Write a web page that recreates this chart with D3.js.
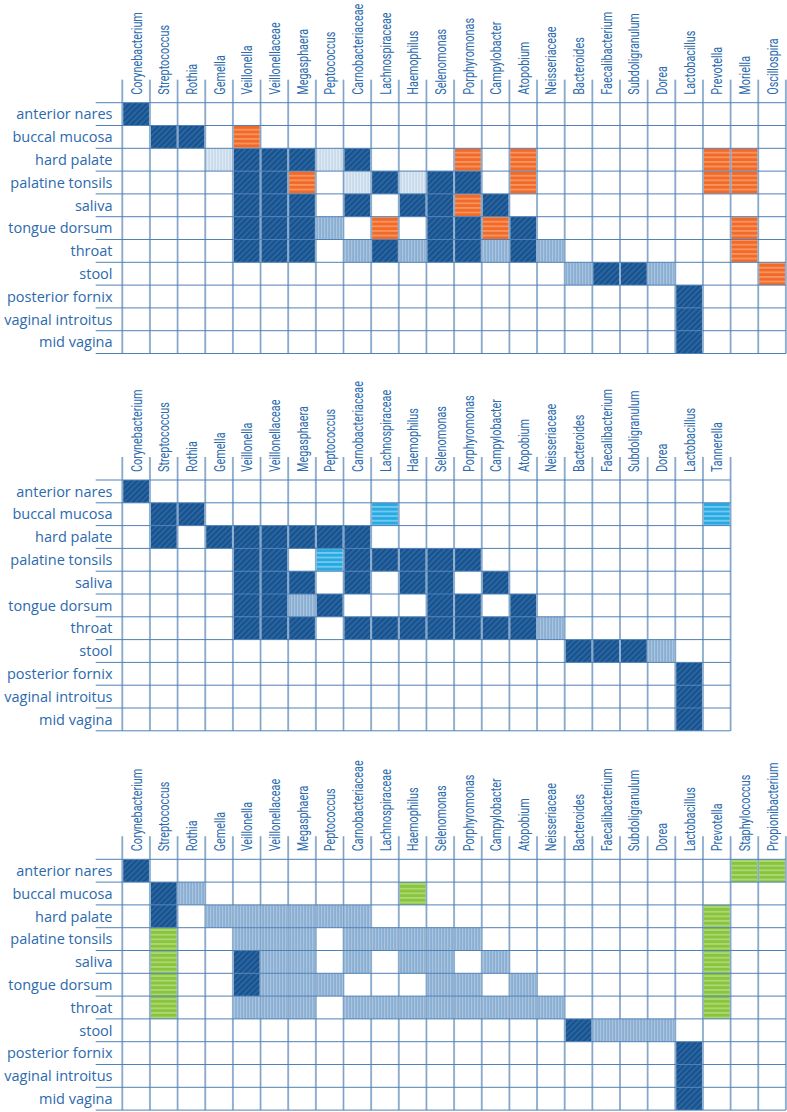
<!DOCTYPE html>
<html><head><meta charset="utf-8">
<script src="https://cdn.jsdelivr.net/npm/d3@7/dist/d3.min.js"></script>
<style>
html,body{margin:0;padding:0;background:#fff;}
svg{display:block;}
</style></head>
<body>
<script>
// ---- data ----
const sites = ["anterior nares","buccal mucosa","hard palate","palatine tonsils","saliva","tongue dorsum","throat","stool","posterior fornix","vaginal introitus","mid vagina"];
const commonTaxa = ["Corynebacterium","Streptococcus","Rothia","Gemella","Veillonella","Veillonellaceae","Megasphaera","Peptococcus","Carnobacteriaceae","Lachnospiraceae","Haemophilus","Selenomonas","Porphyromonas","Campylobacter","Atopobium","Neisseriaceae","Bacteroides","Faecalibacterium","Subdoligranulum","Dorea","Lactobacillus"];
const taxa1 = commonTaxa.concat(["Prevotella","Moriella","Oscillospira"]);
const taxa2 = commonTaxa.concat(["Tannerella"]);
const taxa3 = commonTaxa.concat(["Prevotella","Staphylococcus","Propionibacterium"]);
// cell codes: D dark blue hatch, M mid blue, L pale blue, O orange, C cyan, G green, . empty
const cells1 = [
  "D.......................",
  ".DD.O...................",
  "...LDDDLD...O.O......OO.",
  "....DDO.LDLDD.O......OO.",
  "....DDD.D.DDOD..........",
  "....DDDM.O.DDOD.......O.",
  "....DDD.MDMDDMDM......O.",
  "................MDDM...O",
  "....................D...",
  "....................D...",
  "....................D..."
];
const cells2 = [
  "D.....................",
  ".DD......C...........C",
  ".D.DDDDDD.............",
  "....DD.CDDDDD.........",
  "....DDD.D.DD.D........",
  "....DDMD...DD.D.......",
  "....DDD.DDDDDDDM......",
  "................DDDM..",
  "....................D.",
  "....................D.",
  "....................D."
];
const cells3 = [
  "D.....................GG",
  ".DM.......G.............",
  ".D.MMMMMM............G..",
  ".G..MMM.MMMMM........G..",
  ".G..DMM.M.MM.M.......G..",
  ".G..DMMM...MM.M......G..",
  ".G..MMM.MMMMMMMM.....G..",
  "................DMMM....",
  "....................D...",
  "....................D...",
  "....................D..."
];
const panelTops = [102.7, 480, 859.3];

// ---- drawing ----
const W = 787, H = 1112;
const colW = 27.65, rowH = 22.8, gridX = 122.3, lineX0 = 95.7;
const svg = d3.select("body").append("svg").attr("width", W).attr("height", H);
const defs = svg.append("defs");

const patterns = {
  D: {base:"#2666a4", stripe:"#1a4f87", size:4, w:1.9, rot:45},
  O: {base:"#f26a2b", stripe:"#f7955c", size:4.6, w:1.8, rot:90},
  L: {base:"#c9dbeb", stripe:"#dde9f3", size:3, w:1.2, rot:0},
  M: {base:"#8aafd3", stripe:"#a8c4df", size:3, w:1.2, rot:0},
  C: {base:"#27a9e1", stripe:"#74c9ef", size:4.6, w:1.8, rot:90},
  G: {base:"#8ac43f", stripe:"#acd872", size:4.6, w:1.8, rot:90}
};
Object.entries(patterns).forEach(([k,p]) => {
  const pat = defs.append("pattern").attr("id","pat"+k)
    .attr("patternUnits","userSpaceOnUse").attr("width",p.size).attr("height",p.size)
    .attr("patternTransform",`rotate(${p.rot})`);
  pat.append("rect").attr("width",p.size).attr("height",p.size).attr("fill",p.base);
  pat.append("rect").attr("x",0).attr("y",0).attr("width",p.w).attr("height",p.size).attr("fill",p.stripe);
});

const labelColor = "#2c6aad";

function drawPanel(taxa, cells, top) {
  const g = svg.append("g");
  const x = d3.scaleBand().domain(taxa).range([gridX, gridX + taxa.length*colW]).padding(0);
  const y = d3.scaleBand().domain(sites).range([top, top + sites.length*rowH]).padding(0);
  const data = [];
  cells.forEach((row,i) => row.split("").forEach((c,j) => { if (c !== ".") data.push({site:sites[i], taxon:taxa[j], code:c}); }));
  g.selectAll("rect.cell").data(data).join("rect").attr("class","cell")
    .attr("x", d => x(d.taxon)).attr("y", d => y(d.site))
    .attr("width", x.bandwidth()).attr("height", y.bandwidth())
    .attr("fill", d => `url(#pat${d.code})`);
  const right = gridX + taxa.length*colW;
  // vertical lines
  const vx = taxa.map(t => x(t)).concat([right]);
  g.selectAll("line.v").data(vx).join("line").attr("class","v")
    .attr("x1", d => d).attr("x2", d => d)
    .attr("y1", top - 23).attr("y2", top + sites.length*rowH)
    .attr("stroke","#a9c1da").attr("stroke-width",2);
  g.selectAll("line.v2").data(vx).join("line").attr("class","v2")
    .attr("x1", d => d).attr("x2", d => d)
    .attr("y1", top - 23).attr("y2", top + sites.length*rowH)
    .attr("stroke","#6f97c2").attr("stroke-width",0.7);
  // horizontal lines
  const hy = sites.map(s => y(s)).concat([top + sites.length*rowH]);
  g.selectAll("line.h").data(hy).join("line").attr("class","h")
    .attr("x1", lineX0).attr("x2", right)
    .attr("y1", d => d).attr("y2", d => d)
    .attr("stroke","#4f80b6").attr("stroke-width",1);
  // row labels
  g.selectAll("text.row").data(sites).join("text").attr("class","row")
    .attr("x", 112.5).attr("y", d => y(d) + y.bandwidth()/2)
    .attr("dy","0.36em").attr("text-anchor","end")
    .attr("font-family","'Open Sans', sans-serif").attr("font-size",14.5)
    .attr("fill", labelColor).text(d => d);
  // column labels
  g.selectAll("text.col").data(taxa).join("text").attr("class","col")
    .attr("transform", d => `translate(${x(d) + x.bandwidth()/2},${top - 8}) rotate(-90) scale(0.7,1)`)
    .attr("dy","0.36em").attr("text-anchor","start")
    .attr("font-family","Roboto, sans-serif").attr("font-size",15.5)
    .attr("fill", labelColor).text(d => d);
}
drawPanel(taxa1, cells1, panelTops[0]);
drawPanel(taxa2, cells2, panelTops[1]);
drawPanel(taxa3, cells3, panelTops[2]);
</script>
</body></html>
